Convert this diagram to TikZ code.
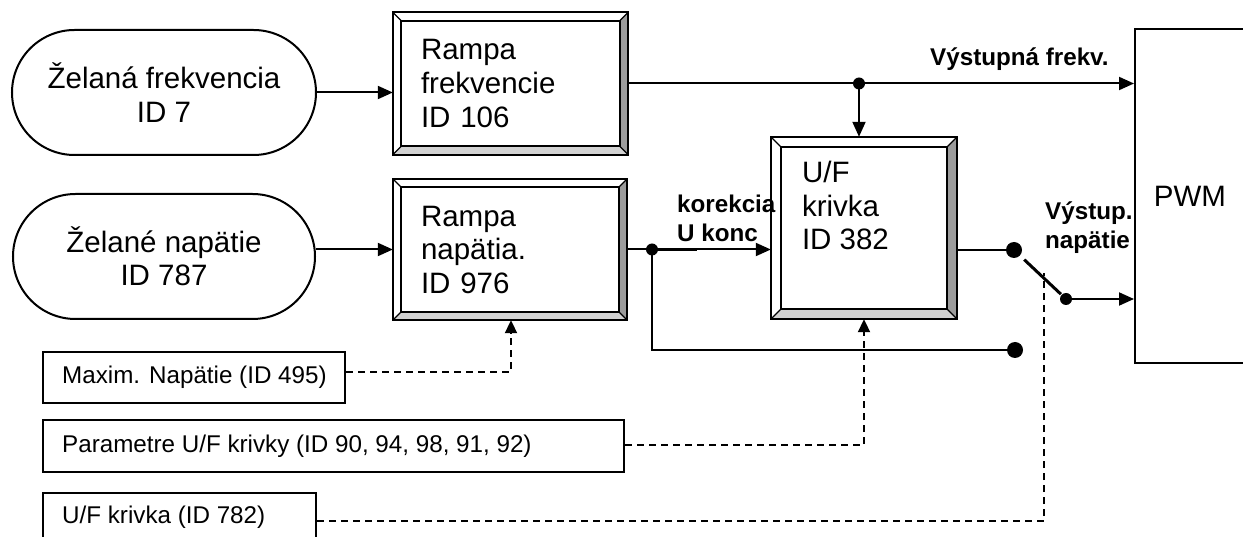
\documentclass[tikz,border=0pt]{standalone}
\usepackage{fontspec}
\setmainfont{Liberation Sans}
\usetikzlibrary{arrows.meta,shapes.misc}
\definecolor{bevdark}{HTML}{9C9C9C}
\definecolor{bevlight}{HTML}{D2D2D2}
\newcommand\bigtext{\fontsize{29.5}{33.5}\selectfont}
\newcommand\smalltext{\fontsize{24.2}{28}\selectfont}
\newcommand\boldtext{\fontsize{24.2}{29}\selectfont\bfseries}
\newcommand\drawbevel[2]{%
  \fill[white] (#1.north west) -- (#1.north east) -- ([xshift=-#2,yshift=-#2]#1.north east) -- ([xshift=#2,yshift=-#2]#1.north west) -- cycle;
  \fill[white] (#1.north west) -- ([xshift=#2,yshift=-#2]#1.north west) -- ([xshift=#2,yshift=#2]#1.south west) -- (#1.south west) -- cycle;
  \fill[bevlight] (#1.south west) -- ([xshift=#2,yshift=#2]#1.south west) -- ([xshift=-#2,yshift=#2]#1.south east) -- (#1.south east) -- cycle;
  \fill[bevdark] (#1.north east) -- (#1.south east) -- ([xshift=-#2,yshift=#2]#1.south east) -- ([xshift=-#2,yshift=-#2]#1.north east) -- cycle;
  \draw[line width=1.1pt] (#1.north west) -- ([xshift=#2,yshift=-#2]#1.north west)
    (#1.north east) -- ([xshift=-#2,yshift=-#2]#1.north east)
    (#1.south east) -- ([xshift=-#2,yshift=#2]#1.south east)
    (#1.south west) -- ([xshift=#2,yshift=#2]#1.south west);
  \draw[line width=2pt] (#1.north west) rectangle (#1.south east);
  \draw[line width=2pt] ([xshift=#2,yshift=-#2]#1.north west) rectangle ([xshift=-#2,yshift=#2]#1.south east);
}
\tikzset{
  oval/.style={rounded rectangle, draw, line width=2pt, inner sep=0pt, align=center, font=\bigtext},
  bbox/.style={rectangle, inner sep=0pt, align=left, font=\bigtext},
  txt/.style={inner sep=0pt, align=left, font=\bigtext},
  pbox/.style={rectangle, draw, line width=2pt, inner sep=0pt, font=\smalltext},
  lbl/.style={inner sep=0pt, align=left, font=\boldtext},
  wire/.style={line width=2pt},
  arr/.style={line width=2pt, -{Triangle[length=15pt,width=13pt]}},
  dsh/.style={line width=2pt, dash pattern=on 7pt off 5pt},
  darr/.style={dsh, -{Triangle[length=13pt,width=12pt]}},
  bigdot/.style={circle, fill, inner sep=0pt, minimum size=16pt},
  smalldot/.style={circle, fill, inner sep=0pt, minimum size=12pt},
}
\begin{document}
\begin{tikzpicture}[x=1pt,y=-1pt]
\useasboundingbox (0,0) rectangle (1243,537);
\clip (0,0) rectangle (1243,537);
\fill[white] (0,0) rectangle (1243,537);

% inputs
\node[oval, minimum width=304pt, minimum height=125pt] (o1) at (164,92.5) {Želaná frekvencia\\ID 7};
\node[oval, minimum width=302pt, minimum height=125pt] (o2) at (164,256.5) {Želané napätie\\ID 787};

% bevel boxes
\node[bbox, minimum width=235pt, minimum height=142pt, text width=179pt] (rf) at (510.5,83.5) {};
\drawbevel{rf}{8.5pt}
\node[txt, text width=179pt] (rft) at (rf) {Rampa\\frekvencie\\ID 106};

\node[bbox, minimum width=234pt, minimum height=141pt, text width=178pt] (rn) at (510,249.5) {};
\drawbevel{rn}{8.5pt}
\node[txt, text width=178pt] (rnt) at (rn) {Rampa\\napätia.\\ID 976};

\node[bbox, minimum width=186pt, minimum height=182pt] (uf) at (864,228) {};
\drawbevel{uf}{10pt}
\node[txt, anchor=north west] (uft) at ([xshift=31pt,yshift=-24.5pt]uf.north west) {U/F\\krivka\\ID 382};

% PWM
\node[pbox, minimum width=110pt, minimum height=334pt, font=\bigtext] (pwm) at (1190,196) {PWM};

% parameter boxes
\node[pbox, minimum width=302pt, minimum height=51pt] (b1) at (194,377.5) {};
\node[inner sep=0pt, font=\smalltext, anchor=west] (b1t) at ([xshift=20pt]b1.west) {Maxim. Napätie (ID 495)};
\node[pbox, minimum width=581pt, minimum height=52pt] (b2) at (333.5,446) {};
\node[inner sep=0pt, font=\smalltext, anchor=west] (b2t) at ([xshift=20pt]b2.west) {Parametre U/F krivky (ID 90, 94, 98, 91, 92)};
\node[pbox, minimum width=273pt, minimum height=48pt] (b3) at (179.5,517) {};
\node[inner sep=0pt, font=\smalltext, anchor=west] (b3t) at ([xshift=20pt]b3.west) {U/F krivka (ID 782)};

% helper coordinates
\coordinate (jx) at (859,0);
\coordinate (j2x) at (652,0);
\node[smalldot] (j1) at (rf.east -| jx) {};
\node[smalldot] (j2) at (rn.east -| j2x) {};
\node[bigdot] (d1) at (1014,250) {};
\node[smalldot] (d2) at (1066,299) {};
\node[bigdot] (d3) at (1015,350) {};
\coordinate (c1) at (511,372);
\coordinate (c2) at (864,445);
\coordinate (c3) at (1044,521);
\coordinate (c3t) at (1044,273);

% connectors
\draw[arr] (o1.east) -- (o1.east -| rf.west);
\draw[arr] (o2.east |- rn.west) -- (rn.west);
\draw[arr] (rf.east) -- (rf.east -| pwm.west);
\draw[arr] (j1.center) -- (j1 |- uf.north);
\draw[arr] (rn.east) -- (rn.east -| uf.west);
\draw[line width=3pt] (j2.center) -- ++(45pt,0);
\draw[wire] (j2.center) |- (d3.center);
\draw[wire] (uf.east |- d1) -- (d1.center);
\draw[line width=3pt, shorten <=14pt, shorten >=7pt] (d1.center) -- (d2.center);
\draw[arr] (d2.center) -- (d2 -| pwm.west);

\draw[darr] (b1.east |- c1) -| (c1 |- rn.south);
\draw[darr] (b2.east |- c2) -| (c2 |- uf.south);
\draw[dsh] (b3.east |- c3) -| (c3t);

% labels
\node[lbl, anchor=base west] (lf) at (930,66) {Výstupná frekv.};
\node[lbl, anchor=north west] (lk) at (677,195) {korekcia\\U konc};
\node[lbl, anchor=north west] (lv) at (1045,202) {Výstup.\\napätie};
\end{tikzpicture}
\end{document}
